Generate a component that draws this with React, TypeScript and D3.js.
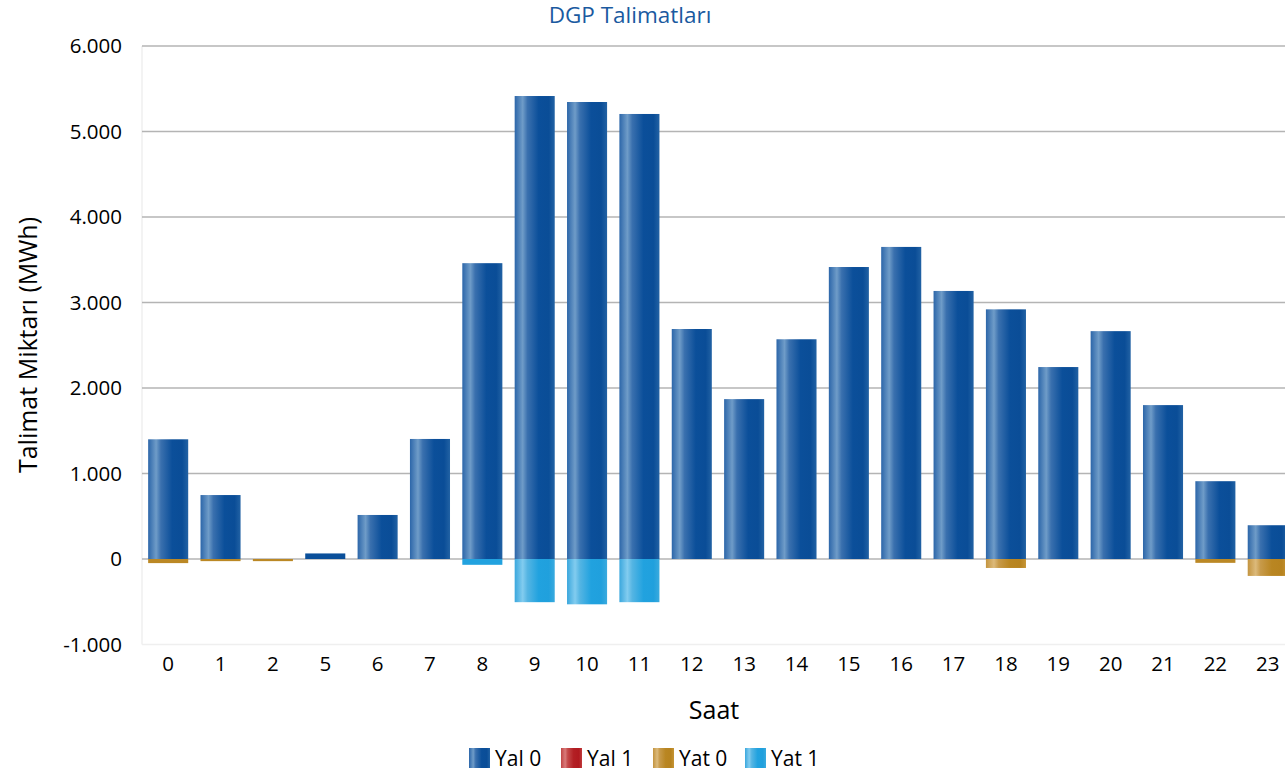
import React, { useEffect, useRef } from 'react';
import * as d3 from 'd3';

// hours (some are missing in the source data)
const hours = ['0', '1', '2', '5', '6', '7', '8', '9', '10', '11', '12', '13', '14', '15', '16', '17', '18', '19', '20', '21', '22', '23'];

// MWh per hour
const yal0 = [1400, 748, 0, 65, 515, 1404, 3460, 5415, 5345, 5205, 2690, 1870, 2570, 3415, 3650, 3135, 2920, 2245, 2665, 1800, 910, 395];
const yal1 = [0, 0, 0, 0, 0, 0, 0, 0, 0, 0, 0, 0, 0, 0, 0, 0, 0, 0, 0, 0, 0, 0];
const yat0 = [-48, -25, -25, 0, 0, 0, 0, 0, 0, 0, 0, 0, 0, 0, 0, 0, -105, 0, 0, 0, -45, -198];
const yat1 = [0, 0, 0, 0, 0, 0, -68, -505, -530, -505, 0, 0, 0, 0, 0, 0, 0, 0, 0, 0, 0, 0];

const yTicks = [-1000, 0, 1000, 2000, 3000, 4000, 5000, 6000];

const seriesNames = ['Yal 0', 'Yal 1', 'Yat 0', 'Yat 1'];
const seriesValues = [yal0, yal1, yat0, yat1];

// left, light stripe, dark middle, right edge
const palettes = [
    ['#2c66a9', '#6f9cc8', '#3a70ae', '#0b4f9a', '#0a4d97', '#2262a4'],
    ['#c04545', '#d97a7a', '#c44a4a', '#b31f24', '#b0191f', '#c03c3c'],
    ['#c3943f', '#dcba7b', '#c79a4a', '#b98622', '#b7831f', '#c69535'],
    ['#3aa7dd', '#82ccef', '#55b5e3', '#21a2df', '#20a0dd', '#3aaade'],
];
const solids = ['#0a4f9a', '#b3262a', '#bb8825', '#22a2df'];

const FONT = '"Open Sans", sans-serif';

// 1000 -> "1.000", -1000 -> "-1.000" (plain hyphen)
const fmt = (v: number) => (v < 0 ? '-' : '') + d3.format(',')(Math.abs(v)).replace(/,/g, '.');

export default () => {
    const width = 1285;
    const height = 775;
    const svgRef = useRef(null);

    useEffect(() => {
        document.body.style.margin = '0';
        d3.select(svgRef.current).selectAll('*').remove();

        const svg = d3.select(svgRef.current)
            .attr('width', width)
            .attr('height', height)
            .style('display', 'block')
            .style('font-family', FONT);

        const defs = svg.append('defs');
        palettes.forEach((p, i) => {
            const grad = defs.append('linearGradient')
                .attr('id', `grad${i}`)
                .attr('x1', 0).attr('x2', 1).attr('y1', 0).attr('y2', 0);
            const offs = [0, 0.2, 0.32, 0.6, 0.85, 1];
            p.forEach((c, k) => grad.append('stop').attr('offset', offs[k]).attr('stop-color', c));
        });

        const plotLeft = 142;
        const step = 52.36;

        const x = d3.scaleBand()
            .domain(hours)
            .range([plotLeft, plotLeft + step * hours.length])
            .paddingInner(0.235)
            .paddingOuter(0.1175);

        const y = d3.scaleLinear()
            .domain([-1000, 6000])
            .range([644.5, 46]);

        // plot frame (faint)
        svg.append('line')
            .attr('x1', plotLeft).attr('x2', plotLeft)
            .attr('y1', y(6000)).attr('y2', y(-1000))
            .attr('stroke', '#efefef').attr('stroke-width', 1.5);
        svg.append('line')
            .attr('x1', plotLeft).attr('x2', width)
            .attr('y1', y(-1000)).attr('y2', y(-1000))
            .attr('stroke', '#efefef').attr('stroke-width', 1.5);

        // grid
        svg.append('g')
            .selectAll('line')
            .data(yTicks.filter(t => t > -1000))
            .join('line')
            .attr('x1', plotLeft).attr('x2', width)
            .attr('y1', d => y(d)).attr('y2', d => y(d))
            .attr('stroke', '#b4b4b4').attr('stroke-width', 1.5);

        // y labels
        svg.append('g')
            .selectAll('text')
            .data(yTicks)
            .join('text')
            .attr('x', plotLeft - 20)
            .attr('y', d => y(d))
            .attr('dy', '0.36em')
            .attr('text-anchor', 'end')
            .attr('font-size', 20.5)
            .attr('fill', '#000')
            .text(d => fmt(d));

        // x labels
        svg.append('g')
            .selectAll('text')
            .data(hours)
            .join('text')
            .attr('x', d => x(d) + x.bandwidth() / 2)
            .attr('y', 671)
            .attr('text-anchor', 'middle')
            .attr('font-size', 20.5)
            .attr('fill', '#000')
            .text(d => d);

        // stacked bars: positives go up, negatives go down
        const bars = svg.append('g');
        hours.forEach((h, i) => {
            let pos = 0;
            let neg = 0;
            seriesValues.forEach((vals, s) => {
                const v = vals[i];
                if (!v) return;
                const y0 = v > 0 ? pos : neg;
                const y1 = y0 + v;
                if (v > 0) pos = y1; else neg = y1;
                const top = y(Math.max(y0, y1));
                const h2 = Math.abs(y(y0) - y(y1));
                bars.append('rect')
                    .attr('x', x(h))
                    .attr('y', top)
                    .attr('width', x.bandwidth())
                    .attr('height', h2)
                    .attr('fill', h2 < 6 ? solids[s] : `url(#grad${s})`);
            });
        });

        // title
        svg.append('text')
            .attr('x', 630)
            .attr('y', 23)
            .attr('text-anchor', 'middle')
            .attr('font-size', 22.5)
            .attr('fill', '#1a5aa0')
            .text('DGP Talimatları');

        // axis titles
        svg.append('text')
            .attr('x', 714)
            .attr('y', 719)
            .attr('text-anchor', 'middle')
            .attr('font-size', 25)
            .attr('fill', '#000')
            .text('Saat');

        svg.append('text')
            .attr('transform', `translate(37,345) rotate(-90)`)
            .attr('text-anchor', 'middle')
            .attr('font-size', 25)
            .attr('fill', '#000')
            .text('Talimat Miktarı (MWh)');

        // legend
        const legend = svg.append('g');
        const itemStep = 92;
        const legendLeft = 469;
        seriesNames.forEach((name, i) => {
            const gx = legendLeft + i * itemStep;
            legend.append('rect')
                .attr('x', gx).attr('y', 748)
                .attr('width', 21).attr('height', 20)
                .attr('fill', `url(#grad${i})`);
            legend.append('text')
                .attr('x', gx + 26)
                .attr('y', 766)
                .attr('font-size', 21)
                .attr('fill', '#000')
                .text(name);
        });
    }, []);

    return <>
        <svg ref={svgRef}></svg>
    </>;
};
